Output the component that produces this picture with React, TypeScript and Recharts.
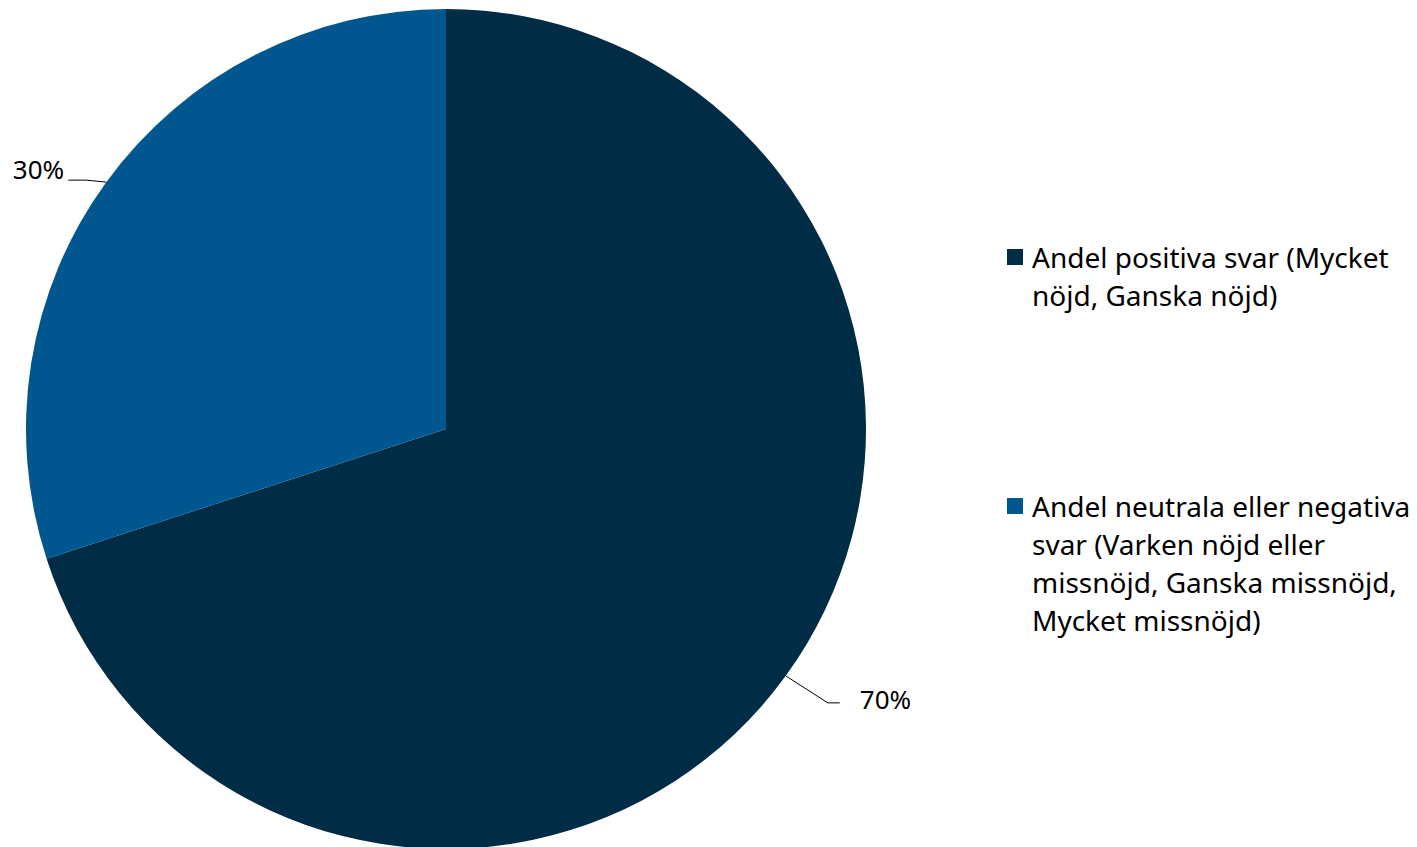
import { PieChart, Pie, Cell, Legend } from "recharts";

const categories = [
  "Andel positiva svar (Mycket nöjd, Ganska nöjd)",
  "Andel neutrala eller negativa svar (Varken nöjd eller missnöjd, Ganska missnöjd, Mycket missnöjd)",
];
const shares = [70, 30];
const colors = ["#002C45", "#00578F"];

const data = categories.map((name, i) => ({ name, value: shares[i] }));

const FONT = "'Noto Sans', 'Open Sans', sans-serif";
const RAD = Math.PI / 180;

function renderLabel(props: any) {
  const { cx, cy, midAngle, outerRadius, value } = props;
  const cos = Math.cos(-midAngle * RAD);
  const sin = Math.sin(-midAngle * RAD);
  const sx = cx + outerRadius * cos;
  const sy = cy + outerRadius * sin;
  const right = cos >= 0;
  // leader line: short diagonal then horizontal run
  const mx = right ? sx + 42 : sx - 20;
  const my = right ? sy + 27 : sy - 2;
  const ex = right ? mx + 12 : mx - 18;
  const tx = right ? ex + 20 : ex - 4;
  const ty = right ? my - 4 : my - 11;
  return (
    <g>
      <polyline
        points={`${sx},${sy} ${mx},${my} ${ex},${my}`}
        fill="none"
        stroke="#000"
        strokeWidth={1}
      />
      <text
        x={tx}
        y={ty}
        textAnchor={right ? "start" : "end"}
        dominantBaseline="central"
        fontSize={26}
        fontFamily={FONT}
        fill="#000"
      >
        {`${value}%`}
      </text>
    </g>
  );
}

function LegendContent() {
  return (
    <div style={{ fontFamily: FONT, fontSize: 28, lineHeight: "38px", color: "#000" }}>
      {data.map((d, i) => (
        <div
          key={d.name}
          style={{ display: "flex", alignItems: "flex-start", marginBottom: i === 0 ? 173 : 0 }}
        >
          <span
            style={{
              display: "inline-block",
              width: 16,
              height: 16,
              background: colors[i],
              marginTop: 11,
              marginRight: 9,
              flexShrink: 0,
            }}
          />
          <span>{d.name}</span>
        </div>
      ))}
    </div>
  );
}

export default function App() {
  return (
    <div style={{ position: "absolute", left: 0, top: 0, background: "#fff" }}>
      <PieChart width={1417} height={847} margin={{ top: 0, right: 0, bottom: 0, left: 0 }}>
        <Pie
          data={data}
          dataKey="value"
          nameKey="name"
          cx={446}
          cy={429}
          outerRadius={420}
          startAngle={90}
          endAngle={-270}
          stroke="none"
          label={renderLabel}
          labelLine={false}
          isAnimationActive={false}
        >
          {data.map((d, i) => (
            <Cell key={d.name} fill={colors[i]} />
          ))}
        </Pie>
        <Legend
          content={<LegendContent />}
          layout="vertical"
          align="right"
          verticalAlign="top"
          wrapperStyle={{ left: 1007, top: 238, width: 410 }}
        />
      </PieChart>
    </div>
  );
}
